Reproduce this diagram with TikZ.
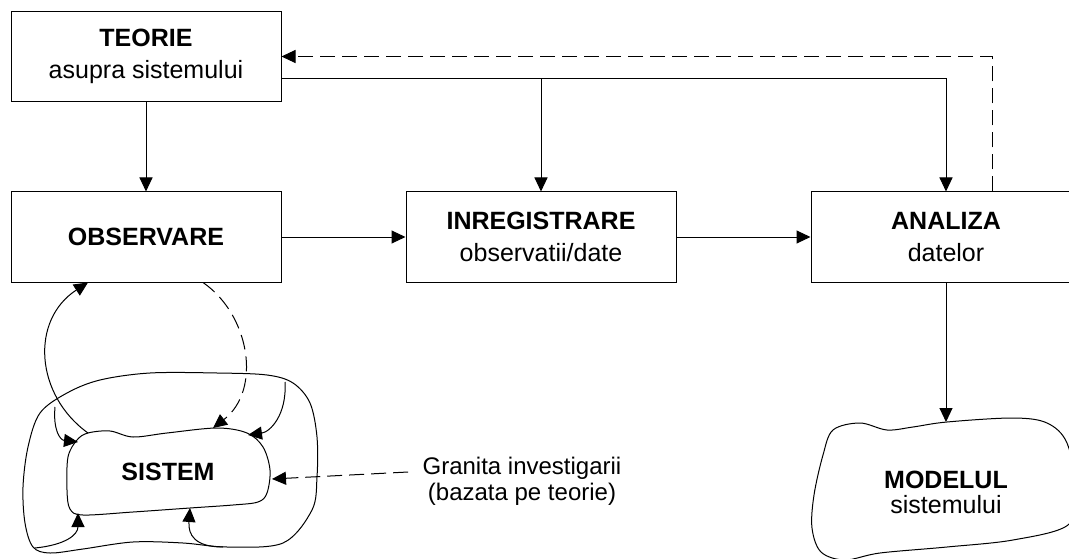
\documentclass[tikz,border=0pt]{standalone}
\usepackage{fontspec}
\setmainfont{Liberation Sans}
\usetikzlibrary{arrows.meta}
\begin{document}
\begin{tikzpicture}[x=1pt,y=-1pt,
  line width=1pt,
  tip/.style={-{Triangle[length=14pt,width=13pt]}},
  dashline/.style={dash pattern=on 15pt off 7pt},
  stagebox/.style={draw, minimum width=270pt, minimum height=90pt, inner sep=0pt,
    align=center, font=\fontsize{25}{32}\selectfont},
  blobtext/.style={align=center, inner sep=0pt, font=\fontsize{25}{25}\selectfont},
  blob/.style={smooth cycle, tension=0.55},
]
\clip (0,0) rectangle (1069,559);

% process stages
\node[stagebox] (teorie) at (146,56.5) {\textbf{TEORIE}\\asupra sistemului};
\node[stagebox] (observare) at (146,237) {\textbf{OBSERVARE}};
\node[stagebox] (inreg) at (541,237) {\textbf{INREGISTRARE}\\observatii/date};
\node[stagebox] (analiza) at (946,237) {\textbf{ANALIZA}\\datelor};

% theory feeds every stage
\coordinate (bus) at (541,79);
\draw[tip] (teorie) -- (observare);
\draw (teorie.east |- bus) -- (bus);
\draw[tip] (bus) -| (analiza.north);
\draw[tip] (bus) -- (inreg.north);

% feedback from the analysis to the theory
\draw[tip, dashline] ([xshift=46pt]analiza.north) |- (teorie.east);

% data flow
\draw[tip] (observare) -- (inreg);
\draw[tip] (inreg) -- (analiza);

% the model
\draw plot[blob] coordinates {(833,430) (860,423) (887,430) (913,427) (947,422)
  (1013,418) (1047,423) (1067,443) (1076,490) (1068,525) (1013,540) (947,547)
  (880,553) (845,560) (821,552) (812,528) (814,495) (823,455)};
\node[blobtext] (modelul) at (946,492) {\textbf{MODELUL}\\sistemului};
\coordinate (modtop) at (946,422);
\draw[tip] (analiza.south) -- (modtop);

% investigation boundary (outer) and the system (inner)
\draw plot[blob] coordinates {(40,413) (67,393) (100,380) (150,373) (217,373)
  (267,375) (293,383) (310,403) (317,437) (317,477) (312,510) (283,543)
  (227,547) (183,543) (133,542) (83,549) (50,553) (33,547) (25,523)
  (23,487) (28,447)};
\draw plot[blob] coordinates {(88,433) (110,431) (133,437) (167,433) (217,428)
  (247,433) (263,447) (270,470) (267,493) (258,502) (233,505) (190,508)
  (133,512) (83,515) (70,509) (67,490) (68,457) (77,440)};
\node[blobtext] (sistem) at (168,472) {\textbf{SISTEM}};

% endpoints on the two outlines
\coordinate (sysTL) at (88,433);
\coordinate (sysL) at (78,442);
\coordinate (sysT) at (213,428);
\coordinate (sysTR) at (248,435);
\coordinate (sysR) at (272,479);
\coordinate (sysBL) at (78,513);
\coordinate (sysB) at (190,508);
\coordinate (bndTL) at (55,407);
\coordinate (bndTR) at (285,382);
\coordinate (bndBL) at (35,548);
\coordinate (bndB) at (223,547);

% exchanges between the system and the observation
\draw[tip] (sysTL) .. controls (35,395) and (30,320) .. ([xshift=-58pt]observare.south);
\draw[tip, dashline] ([xshift=57pt]observare.south) .. controls (250,315) and (262,390) .. (sysT);

% influences across the boundary
\draw[tip] (bndTL) .. controls (53,430) and (60,440) .. (sysL);
\draw[tip] (bndTR) .. controls (287,415) and (270,432) .. (sysTR);
\draw[tip] (bndBL) .. controls (65,545) and (78,535) .. (sysBL);
\draw[tip] (bndB) .. controls (195,547) and (188,535) .. (sysB);

% boundary label
\node[blobtext, font=\fontsize{24}{26}\selectfont] (granita) at (522,481.5)
  {Granita investigarii\\(bazata pe teorie)};
\draw[tip, dashline] ([shift={(-14pt,9.5pt)}]granita.west) -- (sysR);
\end{tikzpicture}
\end{document}
